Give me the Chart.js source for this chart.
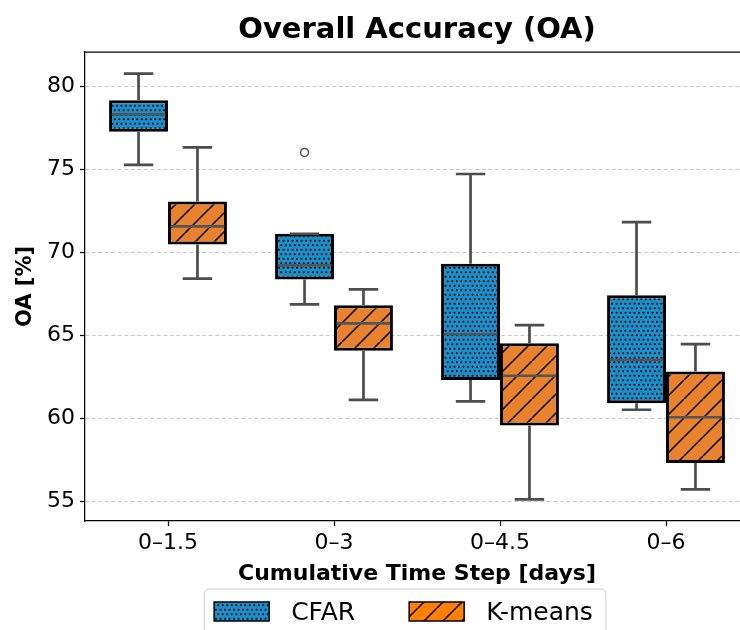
<!DOCTYPE html>
<html><head><meta charset="utf-8">
<script src="https://cdn.jsdelivr.net/npm/chart.js@4/dist/chart.umd.min.js"></script>
<style>html,body{margin:0;padding:0;background:#fff;overflow:hidden}
#wrap{width:740px;height:630px;overflow:hidden;position:relative;background:#fff}
canvas{display:block}</style></head>
<body><div id="wrap"><canvas id="c" width="760" height="630" style="width:760px;height:630px"></canvas></div>
<script>
// ---- data ----
const categories = ['0\u20131.5', '0\u20133', '0\u20134.5', '0\u20136'];
const seriesNames = ['CFAR', 'K-means'];
const yTicks = [55, 60, 65, 70, 75, 80];
const titleText = 'Overall Accuracy (OA)';
const xTitle = 'Cumulative Time Step [days]';
const yTitle = 'OA [%]';

const cfarMin = [75.25, 66.85, 61.0, 60.5];
const cfarQ1  = [77.25, 68.35, 62.3, 60.9];
const cfarMed = [78.3, 69.2, 65.05, 63.5];
const cfarQ3  = [79.15, 71.1, 69.3, 67.4];
const cfarMax = [80.75, 71.1, 74.7, 71.8];
const cfarOutliers = [[], [76.0], [], []];

const kmMin = [68.4, 61.1, 55.1, 55.7];
const kmQ1  = [70.45, 64.05, 59.55, 57.3];
const kmMed = [71.55, 65.7, 62.55, 60.05];
const kmQ3  = [73.05, 66.8, 64.5, 62.8];
const kmMax = [76.3, 67.75, 65.6, 64.45];
const kmOutliers = [[], [], [], []];

// ---- styles ----
const FONT = "'DejaVu Sans', sans-serif";
const CFAR_COLOR = '#1b8fca';
const KM_COLOR = '#e8822f';
const KM_LEGEND_COLOR = '#ff8000';

function dotPattern(color){
  const c = document.createElement('canvas'); c.width = 9; c.height = 9;
  const g = c.getContext('2d');
  g.fillStyle = color; g.fillRect(0,0,9,9);
  g.fillStyle = '#000';
  const pts = [[2.25,2.25],[6.75,2.25],[0,6.75],[4.5,6.75],[9,6.75]];
  pts.forEach(p=>{ g.beginPath(); g.arc(p[0],p[1],1.0,0,Math.PI*2); g.fill(); });
  return document.createElement('canvas').getContext('2d').createPattern(c,'repeat');
}
function hatchPattern(color){
  const s = 19;
  const c = document.createElement('canvas'); c.width = s; c.height = s;
  const g = c.getContext('2d');
  g.fillStyle = color; g.fillRect(0,0,s,s);
  g.strokeStyle = '#000'; g.lineWidth = 1.5;
  g.beginPath();
  [-s,0,s].forEach(k=>{ g.moveTo(k, s); g.lineTo(k+s, 0); });
  g.stroke();
  return document.createElement('canvas').getContext('2d').createPattern(c,'repeat');
}

const stats = [
  {min:cfarMin, q1:cfarQ1, med:cfarMed, q3:cfarQ3, max:cfarMax, out:cfarOutliers},
  {min:kmMin, q1:kmQ1, med:kmMed, q3:kmQ3, max:kmMax, out:kmOutliers}
];

const boxPlugin = {
  id:'boxExtras',
  afterDatasetsDraw(chart){
    const ctx = chart.ctx, ys = chart.scales.y;
    const py = v => ys.getPixelForValue(v);
    ctx.save();
    stats.forEach((s,d)=>{
      chart.getDatasetMeta(d).data.forEach((bar,i)=>{
        const x = bar.x, w = bar.width, cap = w/2;
        ctx.strokeStyle = '#4d4d4d'; ctx.lineWidth = 2.7; ctx.lineCap = 'butt';
        ctx.beginPath();
        ctx.moveTo(x, py(s.q3[i])); ctx.lineTo(x, py(s.max[i]));
        ctx.moveTo(x, py(s.q1[i])); ctx.lineTo(x, py(s.min[i]));
        ctx.moveTo(x-cap/2, py(s.max[i])); ctx.lineTo(x+cap/2, py(s.max[i]));
        ctx.moveTo(x-cap/2, py(s.min[i])); ctx.lineTo(x+cap/2, py(s.min[i]));
        ctx.stroke();
        ctx.strokeStyle = '#555555'; ctx.lineWidth = 2.7;
        ctx.beginPath();
        ctx.moveTo(x-w/2+2.5, py(s.med[i])); ctx.lineTo(x+w/2-2.5, py(s.med[i]));
        ctx.stroke();
        ctx.strokeStyle = '#555555'; ctx.lineWidth = 1.5;
        s.out[i].forEach(v=>{ ctx.beginPath(); ctx.arc(x, py(v), 4, 0, Math.PI*2); ctx.stroke(); });
      });
    });
    ctx.restore();
  }
};

const framePlugin = {
  id:'frameTitleLegend',
  afterDraw(chart){
    const ctx = chart.ctx, a = chart.chartArea;
    ctx.save();
    // top & right spines
    ctx.strokeStyle = '#000'; ctx.lineWidth = 1.25;
    ctx.beginPath();
    ctx.moveTo(a.left, a.top); ctx.lineTo(a.right, a.top); ctx.lineTo(a.right, a.bottom);
    ctx.stroke();
    // title
    ctx.fillStyle = '#000';
    ctx.font = 'bold 29px ' + FONT;
    ctx.textAlign = 'center'; ctx.textBaseline = 'alphabetic';
    ctx.fillText(titleText, (a.left + a.right)/2, 38);
    // legend
    ctx.font = '25px ' + FONT;
    const hw = 55, hh = 19, tpad = 22, colsp = 54, padL = 10, padR = 13;
    const w0 = ctx.measureText(seriesNames[0]).width;
    const w1 = ctx.measureText(seriesNames[1]).width;
    const fw = padL + hw + tpad + w0 + colsp + hw + tpad + w1 + padR;
    const cx = 405, ftop = 589;
    const fl = cx - fw/2;
    ctx.beginPath();
    ctx.roundRect(fl, ftop, fw, 56, 5);
    ctx.fillStyle = 'rgba(255,255,255,0.8)'; ctx.fill();
    ctx.strokeStyle = '#d0d0d0'; ctx.lineWidth = 1; ctx.stroke();
    const pTop = 602;
    let x = fl + padL;
    const fills = [dotPattern(CFAR_COLOR), hatchPattern(KM_LEGEND_COLOR)];
    const widths = [w0, w1];
    for (let k=0;k<2;k++){
      ctx.fillStyle = fills[k];
      ctx.fillRect(x, pTop, hw, hh);
      ctx.strokeStyle = '#000'; ctx.lineWidth = 1.5;
      ctx.strokeRect(x, pTop, hw, hh);
      ctx.fillStyle = '#000'; ctx.textAlign = 'left';
      ctx.fillText(seriesNames[k], x + hw + tpad, 620);
      x += hw + tpad + widths[k] + colsp;
    }
    ctx.restore();
  }
};

new Chart(document.getElementById('c').getContext('2d'), {
  type:'bar',
  data:{
    labels: categories,
    datasets:[
      {label: seriesNames[0], data: cfarQ1.map((v,i)=>[v, cfarQ3[i]]),
       backgroundColor: dotPattern(CFAR_COLOR), borderColor:'#000', borderWidth:3, borderSkipped:false},
      {label: seriesNames[1], data: kmQ1.map((v,i)=>[v, kmQ3[i]]),
       backgroundColor: hatchPattern(KM_COLOR), borderColor:'#000', borderWidth:3, borderSkipped:false}
    ]
  },
  options:{
    responsive:false, animation:false,
    layout:{padding:{left:0, right:11, top:52, bottom:41}},
    datasets:{bar:{categoryPercentage:0.71, barPercentage:1}},
    plugins:{legend:{display:false}, title:{display:false}, tooltip:{enabled:false}},
    scales:{
      x:{
        offset:true,
        grid:{display:true, drawOnChartArea:false, drawTicks:true, tickLength:5, tickColor:'#000', tickWidth:1.25, offset:false},
        border:{display:true, color:'#000', width:1.25},
        ticks:{font:{family:FONT, size:22}, color:'#000', padding:4, maxRotation:0},
        title:{display:true, text:xTitle, color:'#000', font:{family:FONT, size:22, weight:'bold'}, padding:{top:0, bottom:2}},
        afterFit(s){ s.height = 68; }
      },
      y:{
        min:53.8, max:82.05,
        afterBuildTicks(s){ s.ticks = yTicks.map(v=>({value:v})); },
        grid:{display:true, color:'#c8c8c8', lineWidth:1, drawTicks:true, tickLength:5, tickColor:'#000', tickWidth:1.25, tickBorderDash:[]},
        border:{display:true, color:'#000', width:1.25, dash:[4,2.5]},
        ticks:{font:{family:FONT, size:22}, color:'#000', padding:5},
        title:{display:true, text:yTitle, color:'#000', font:{family:FONT, size:21, weight:'bold'}, padding:{top:13, bottom:0}},
        afterFit(s){ s.width = 85; }
      }
    }
  },
  plugins:[boxPlugin, framePlugin]
});
</script>
</body></html>
